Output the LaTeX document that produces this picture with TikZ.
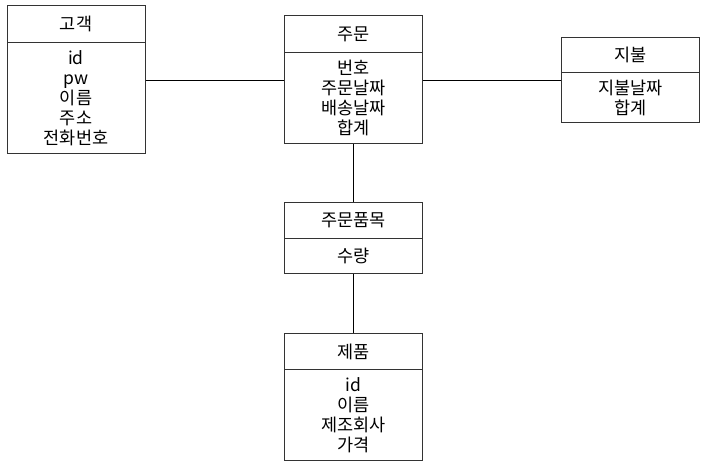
\documentclass[tikz,border=0pt]{standalone}
\usepackage{fontspec}
\setmainfont{Noto Sans CJK KR}
\tikzset{
	entity/.style={draw=black!80, line width=1pt, minimum width=138pt, inner sep=0pt,
		align=center, anchor=north, font=\fontsize{17.5}{20}\selectfont},
	relation/.style={line width=1pt}
}
\begin{document}
\begin{tikzpicture}[x=1pt,y=-1pt]
	\useasboundingbox (0,0) rectangle (703,464);
	% entities
	\node[entity, minimum height=37pt] (cust-head) at (76,5) {고객};
	\node[entity, minimum height=111pt] (cust-body) at (76,42) {id\\pw\\이름\\주소\\전화번호};
	\node[entity, minimum height=37pt] (order-head) at (353.5,15) {주문};
	\node[entity, minimum height=91pt] (order-body) at (353.5,52) {번호\\주문날짜\\배송날짜\\합계};
	\node[entity, minimum height=35pt] (pay-head) at (630.5,37) {지불};
	\node[entity, minimum height=50pt] (pay-body) at (630.5,72) {지불날짜\\합계};
	\node[entity, minimum height=36pt] (item-head) at (353.5,202) {주문품목};
	\node[entity, minimum height=35pt] (item-body) at (353.5,238) {수량};
	\node[entity, minimum height=36pt] (prod-head) at (353.5,333) {제품};
	\node[entity, minimum height=91pt] (prod-body) at (353.5,369) {id\\이름\\제조회사\\가격};
	% relations
	\coordinate (rowy) at (0,80.5);
	\draw[relation] (cust-body.east |- rowy) -- (order-body.west |- rowy);
	\draw[relation] (order-body.east |- rowy) -- (pay-body.west |- rowy);
	\draw[relation] (order-body.south) -- (item-head.north);
	\draw[relation] (item-body.south) -- (prod-head.north);
\end{tikzpicture}
\end{document}
